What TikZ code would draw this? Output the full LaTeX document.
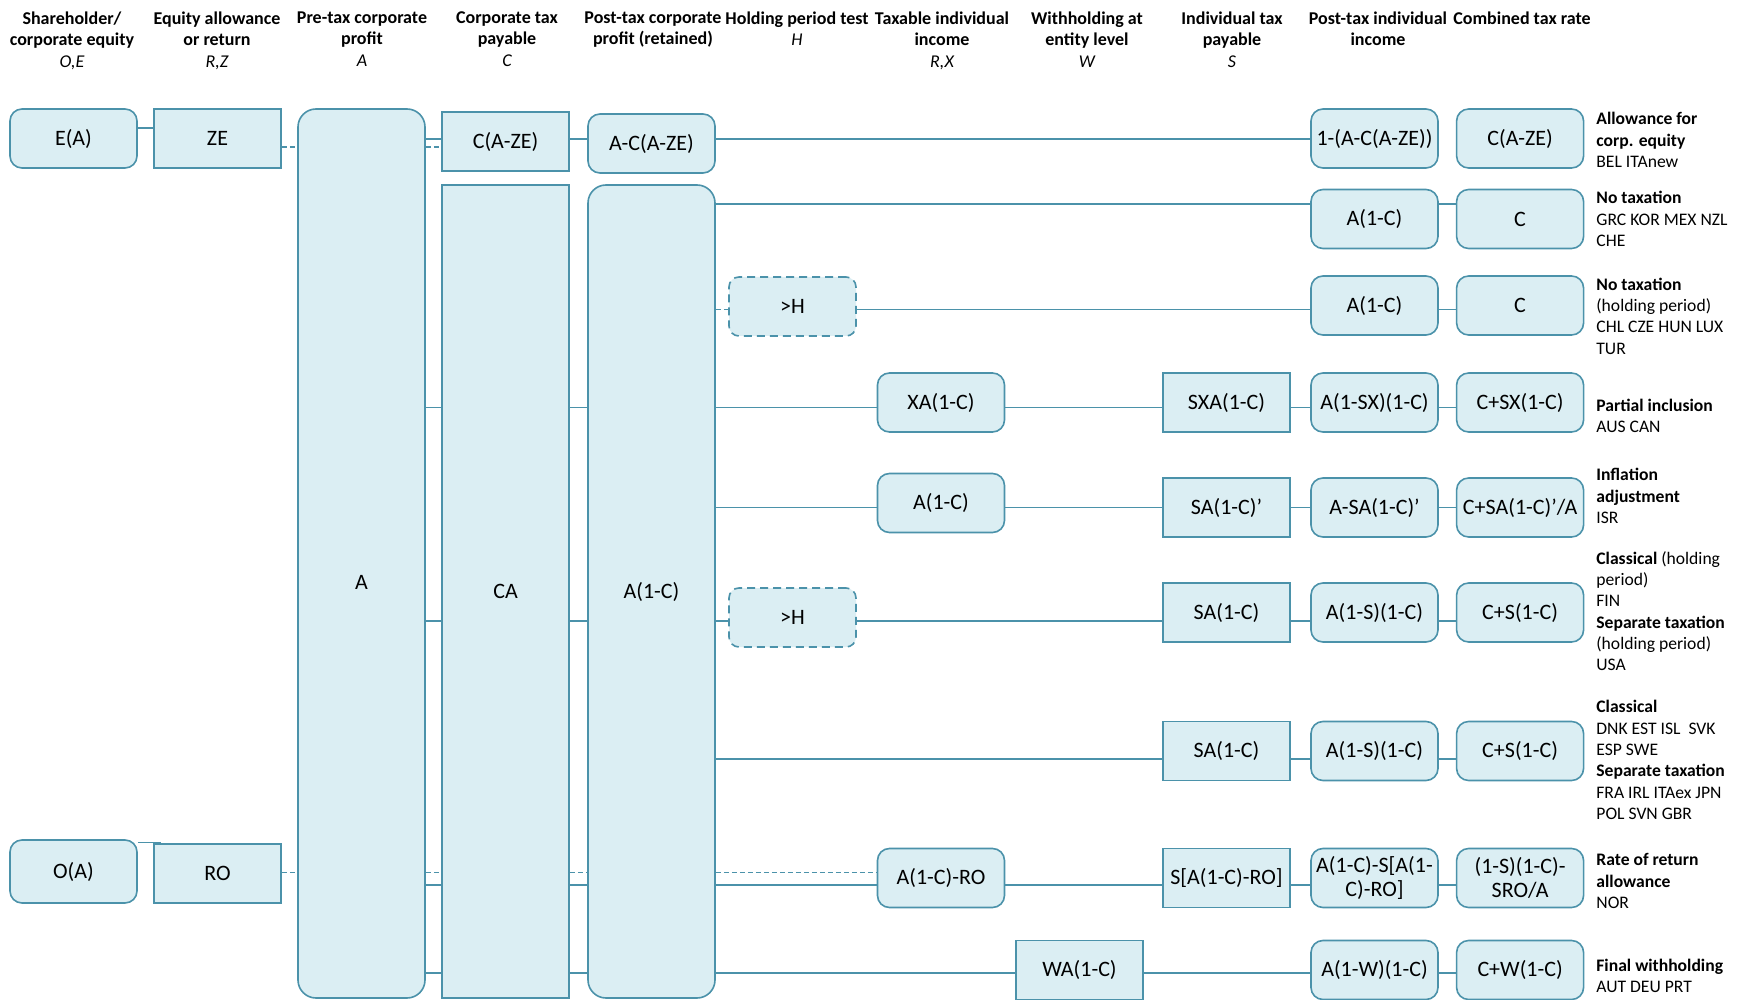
\documentclass[tikz,border=0pt]{standalone}
\usepackage{fontspec}
\setmainfont{Carlito}
\usetikzlibrary{positioning}

\definecolor{edgeteal}{RGB}{75,146,170}
\definecolor{boxfill}{RGB}{219,238,243}

\begin{document}
\begin{tikzpicture}[
    x=0.5pt, y=-0.5pt,
    node distance=8.5pt,
    rndnode/.style={draw=edgeteal, fill=boxfill, line width=0.8pt,
        rounded corners=6pt, minimum width=63.5pt, minimum height=29.5pt,
        inner sep=1pt, align=center, font=\fontsize{11}{12}\selectfont},
    sqnode/.style={rndnode, sharp corners},
    holdnode/.style={rndnode, rounded corners=5pt, dash pattern=on 4pt off 2.5pt},
    tallrnd/.style={rndnode, rounded corners=9pt},
    tallsq/.style={rndnode, sharp corners},
    headnode/.style={anchor=north, inner sep=0pt, align=center,
        font=\fontsize{9}{10.75}\selectfont\bfseries},
    notenode/.style={anchor=west, inner sep=0pt, align=left,
        font=\fontsize{8.8}{10.65}\selectfont},
    link/.style={draw=edgeteal, line width=0.75pt},
    dlink/.style={link, dash pattern=on 2.5pt off 1.5pt}
]
\path[use as bounding box, fill=white] (0,0) rectangle (1742,1000);

% Column heads
\node[headnode] (h_equity) at (72,11) {Shareholder/\\corporate equity\\{\mdseries\itshape O,E}};
\node[headnode] (h_allow) at (217,11) {Equity allowance\\or return\\{\mdseries\itshape R,Z}};
\node[headnode] (h_pretax) at (362,11) {Pre-tax corporate\\profit\\{\mdseries\itshape A}};
\node[headnode] (h_ctax) at (507,11) {Corporate tax\\payable\\{\mdseries\itshape C}};
\node[headnode] (h_ret) at (653,11) {Post-tax corporate\\profit (retained)};
\node[headnode] (h_hold) at (797,11) {Holding period test\\{\mdseries\itshape H}};
\node[headnode] (h_taxable) at (942,11) {Taxable individual\\income\\{\mdseries\itshape R,X}};
\node[headnode] (h_wh) at (1087,11) {Withholding at\\entity level\\{\mdseries\itshape W}};
\node[headnode] (h_itax) at (1232,11) {Individual tax\\payable\\{\mdseries\itshape S}};
\node[headnode] (h_post) at (1378,11) {Post-tax individual\\income};
\node[headnode] (h_comb) at (1522,11) {Combined tax rate};

% Corporate side
\node[rndnode] (eqE) at (73.5,138.5) {E(A)};
\node[sqnode] (allowZE) at (217.5,138.5) {ZE};
\node[tallrnd, minimum height=444.5pt, text height=36pt, text depth=0pt] (pretax) at (361.5,553.5) {A};
\node[sqnode] (ctaxZE) at (505.5,141.5) {C(A-ZE)};
\node[tallsq, minimum height=406.5pt] (corptax) at (505.5,591.5) {CA};
\node[rndnode] (retZE) at (651.5,143.5) {A-C(A-ZE)};
\node[tallrnd, minimum height=406.5pt] (retained) at (651.5,591.5) {A(1-C)};
\node[rndnode, minimum height=31.5pt] (eqO) at (73.5,871.5) {O(A)};
\node[sqnode] (allowRO) at (217.5,873.5) {RO};

% Shareholder side
\node[holdnode] (hold3) at (792.5,306.5) {>H};
\node[holdnode] (hold6) at (792.5,617.5) {>H};
\node[rndnode] (taxX) at (941,402.5) {XA(1-C)};
\node[rndnode] (taxI) at (941,503) {A(1-C)};
\node[rndnode] (taxRO) at (941,878) {A(1-C)-RO};
\node[sqnode] (whW) at (1079.5,970) {WA(1-C)};
\node[sqnode] (indX) at (1226.5,402.5) {SXA(1-C)};
\node[sqnode] (indI) at (1226.5,507.5) {SA(1-C)’};
\node[sqnode] (ind6) at (1226.5,612.5) {SA(1-C)};
\node[sqnode] (ind7) at (1226.5,751) {SA(1-C)};
\node[sqnode] (indRO) at (1226.5,878) {S[A(1-C)-RO]};

% Post-tax and combined rate
\node[rndnode] (postZE) at (1374.5,138.5) {1-(A-C(A-ZE))};
\node[rndnode] (post2) at (1374.5,219) {A(1-C)};
\node[rndnode] (post3) at (1374.5,305.5) {A(1-C)};
\node[rndnode] (post4) at (1374.5,402.5) {A(1-SX)(1-C)};
\node[rndnode] (post5) at (1374.5,507.5) {A-SA(1-C)’};
\node[rndnode] (post6) at (1374.5,612.5) {A(1-S)(1-C)};
\node[rndnode] (post7) at (1374.5,751) {A(1-S)(1-C)};
\node[rndnode] (post8) at (1374.5,878) {A(1-C)-S[A(1-\\C)-RO]};
\node[rndnode] (post9) at (1374.5,970) {A(1-W)(1-C)};
\node[rndnode, right=of postZE] (combZE) {C(A-ZE)};
\node[rndnode, right=of post2] (comb2) {C};
\node[rndnode, right=of post3] (comb3) {C};
\node[rndnode, right=of post4] (comb4) {C+SX(1-C)};
\node[rndnode, right=of post5] (comb5) {C+SA(1-C)’/A};
\node[rndnode, right=of post6] (comb6) {C+S(1-C)};
\node[rndnode, right=of post7] (comb7) {C+S(1-C)};
\node[rndnode, right=of post8] (comb8) {(1-S)(1-C)-\\SRO/A};
\node[rndnode, right=of post9] (comb9) {C+W(1-C)};

% Systems
\node[notenode] (n_ace) at (1596,140) {\textbf{Allowance for}\\\textbf{corp. equity}\\BEL ITAnew};
\node[notenode] (n_none) at (1596,219) {\textbf{No taxation}\\GRC KOR MEX NZL\\CHE};
\node[notenode] (n_nonehp) at (1596,316) {\textbf{No taxation}\\(holding period)\\CHL CZE HUN LUX\\TUR};
\node[notenode] (n_partial) at (1596,416) {\textbf{Partial inclusion}\\AUS CAN};
\node[notenode] (n_infl) at (1596,496) {\textbf{Inflation}\\\textbf{adjustment}\\ISR};
\node[notenode] (n_classhp) at (1596,611) {\textbf{Classical} (holding\\period)\\FIN\\\textbf{Separate taxation}\\(holding period)\\USA};
\node[notenode] (n_class) at (1596,760) {\textbf{Classical}\\DNK EST ISL~~SVK\\ESP SWE\\\textbf{Separate taxation}\\FRA IRL ITAex JPN\\POL SVN GBR};
\node[notenode] (n_rra) at (1596,881) {\textbf{Rate of return}\\\textbf{allowance}\\NOR};
\node[notenode] (n_final) at (1596,976) {\textbf{Final withholding}\\AUT DEU PRT};

% Line levels
\coordinate (lvlEZ) at (0,128);
\coordinate (lvl1) at (0,139);
\coordinate (lvl1d) at (0,147);
\coordinate (lvl2) at (0,204);
\coordinate (lvl3) at (0,309.5);
\coordinate (lvl4) at (0,407.7);
\coordinate (lvl5) at (0,507.7);
\coordinate (lvl6) at (0,621);
\coordinate (lvl7) at (0,759);
\coordinate (lvlOR) at (0,842.7);
\coordinate (lvl8d) at (0,872.7);
\coordinate (lvl8) at (0,885);
\coordinate (lvl9) at (0,973);

% Paths
\draw[link] (eqE.east |- lvlEZ) -- (allowZE.west |- lvlEZ);
\draw[dlink] (allowZE.east |- lvl1d) -- (pretax.west |- lvl1d)
    (pretax.east |- lvl1d) -- (ctaxZE.west |- lvl1d);
\draw[link] (pretax.east |- lvl1) -- (ctaxZE.west |- lvl1)
    (ctaxZE.east |- lvl1) -- (retZE.west |- lvl1)
    (retZE.east |- lvl1) -- (postZE.west |- lvl1);

\draw[link] (retained.east |- lvl2) -- (post2.west |- lvl2)
    (post2.east |- lvl2) -- (comb2.west |- lvl2);

\draw[dlink] (retained.east |- lvl3) -- (hold3.west |- lvl3);
\draw[link] (hold3.east |- lvl3) -- (post3.west |- lvl3)
    (post3.east |- lvl3) -- (comb3.west |- lvl3);

\draw[link] (pretax.east |- lvl4) -- (corptax.west |- lvl4)
    (corptax.east |- lvl4) -- (retained.west |- lvl4)
    (retained.east |- lvl4) -- (taxX.west |- lvl4)
    (taxX.east |- lvl4) -- (indX.west |- lvl4)
    (indX.east |- lvl4) -- (post4.west |- lvl4)
    (post4.east |- lvl4) -- (comb4.west |- lvl4);

\draw[link] (retained.east |- lvl5) -- (taxI.west |- lvl5)
    (taxI.east |- lvl5) -- (indI.west |- lvl5)
    (indI.east |- lvl5) -- (post5.west |- lvl5)
    (post5.east |- lvl5) -- (comb5.west |- lvl5);

\draw[link] (pretax.east |- lvl6) -- (corptax.west |- lvl6)
    (corptax.east |- lvl6) -- (retained.west |- lvl6)
    (retained.east |- lvl6) -- (hold6.west |- lvl6)
    (hold6.east |- lvl6) -- (ind6.west |- lvl6)
    (ind6.east |- lvl6) -- (post6.west |- lvl6)
    (post6.east |- lvl6) -- (comb6.west |- lvl6);

\draw[link] (retained.east |- lvl7) -- (ind7.west |- lvl7)
    (ind7.east |- lvl7) -- (post7.west |- lvl7)
    (post7.east |- lvl7) -- (comb7.west |- lvl7);

\draw[link] (eqO.east |- lvlOR) -- ([xshift=4pt]allowRO.west |- lvlOR);
\draw[dlink] (allowRO.east |- lvl8d) -- (pretax.west |- lvl8d)
    (pretax.east |- lvl8d) -- (corptax.west |- lvl8d)
    (corptax.east |- lvl8d) -- (retained.west |- lvl8d)
    (retained.east |- lvl8d) -- (taxRO.west |- lvl8d);
\draw[link] (pretax.east |- lvl8) -- (corptax.west |- lvl8)
    (corptax.east |- lvl8) -- (retained.west |- lvl8)
    (retained.east |- lvl8) -- (taxRO.west |- lvl8)
    (taxRO.east |- lvl8) -- (indRO.west |- lvl8)
    (indRO.east |- lvl8) -- (post8.west |- lvl8)
    (post8.east |- lvl8) -- (comb8.west |- lvl8);

\draw[link] (pretax.east |- lvl9) -- (corptax.west |- lvl9)
    (corptax.east |- lvl9) -- (retained.west |- lvl9)
    (retained.east |- lvl9) -- (whW.west |- lvl9)
    (whW.east |- lvl9) -- (post9.west |- lvl9)
    (post9.east |- lvl9) -- (comb9.west |- lvl9);

\end{tikzpicture}
\end{document}
